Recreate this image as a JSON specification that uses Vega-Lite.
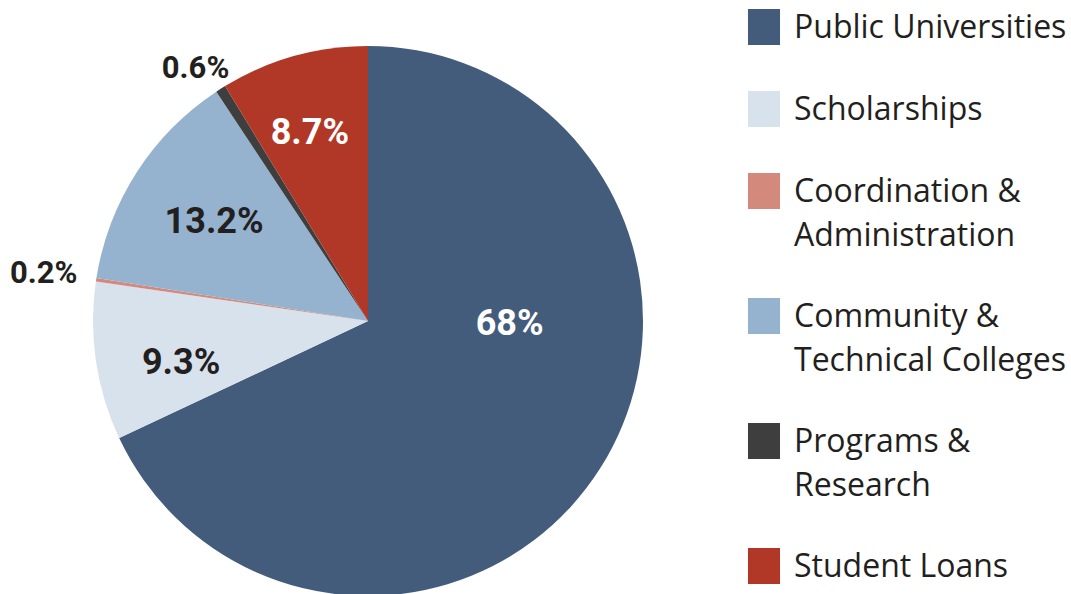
{
  "$schema": "https://vega.github.io/schema/vega-lite/v6.json",
  "width": 550,
  "height": 546,
  "autosize": {"type": "none"},
  "padding": {"left": 93, "top": 48, "right": 428, "bottom": 0},
  "background": "white",
  "config": {"view": {"stroke": null}},
  "data": {
    "values": [
      {"category": "Public Universities", "share": 68, "label": "68%", "idx": 1},
      {"category": "Scholarships", "share": 9.3, "label": "9.3%", "idx": 2},
      {"category": "Coordination & Administration", "share": 0.2, "label": "0.2%", "idx": 3},
      {"category": "Community & Technical Colleges", "share": 13.2, "label": "13.2%", "idx": 4},
      {"category": "Programs & Research", "share": 0.6, "label": "0.6%", "idx": 5},
      {"category": "Student Loans", "share": 8.7, "label": "8.7%", "idx": 6}
    ]
  },
  "encoding": {
    "theta": {"field": "share", "type": "quantitative", "stack": true},
    "order": {"field": "idx", "type": "quantitative"}
  },
  "layer": [
    {
      "mark": {"type": "arc", "radius": 275, "strokeWidth": 0},
      "encoding": {
        "color": {
          "field": "category",
          "type": "nominal",
          "scale": {
            "domain": ["Public Universities", "Scholarships", "Coordination & Administration", "Community & Technical Colleges", "Programs & Research", "Student Loans"],
            "range": ["#445c7c", "#d8e2ec", "#d4897d", "#95b3cf", "#3e3e3e", "#b13827"]
          },
          "legend": {
            "title": null,
            "orient": "none",
            "legendX": 653,
            "legendY": -39,
            "padding": 0,
            "symbolType": "M-0.89,-1H0.89V1H-0.89Z",
            "symbolSize": 1296,
            "symbolStrokeWidth": 0,
            "symbolOpacity": 1,
            "labelFont": "Open Sans",
            "labelFontSize": 32,
            "labelColor": "#231f20",
            "labelLimit": 400,
            "labelOffset": 12,
            "rowPadding": 46,
            "labelBaseline": "alphabetic",
            "labelExpr": "datum.label == 'Coordination & Administration' ? ['Coordination &', 'Administration'] : datum.label == 'Community & Technical Colleges' ? ['Community &', 'Technical Colleges'] : datum.label == 'Programs & Research' ? ['Programs &', 'Research'] : datum.label",
            "encode": {"labels": {"update": {"dy": {"value": 11}, "lineHeight": {"value": 44}}}}
          }
        }
      }
    },
    {
      "mark": {"type": "text", "radius": 144, "dx": 20, "dy": -74, "font": "Roboto", "fontWeight": "bold", "fontSize": 36, "fill": "white"},
      "encoding": {"text": {"condition": {"test": "datum.category === 'Public Universities'", "field": "label"}, "value": ""}}
    },
    {
      "mark": {"type": "text", "radius": 197, "dx": -5, "dy": 2, "font": "Roboto", "fontWeight": "bold", "fontSize": 36, "fill": "white"},
      "encoding": {"text": {"condition": {"test": "datum.category === 'Student Loans'", "field": "label"}, "value": ""}}
    },
    {
      "mark": {"type": "text", "radius": 305, "dx": -9, "dy": 6, "font": "Roboto", "fontWeight": "bold", "fontSize": 31, "fill": "#231f20"},
      "encoding": {"text": {"condition": {"test": "datum.category === 'Programs & Research'", "field": "label"}, "value": ""}}
    },
    {
      "mark": {"type": "text", "radius": 183, "dx": 0, "dy": 0, "font": "Roboto", "fontWeight": "bold", "fontSize": 36, "fill": "#231f20"},
      "encoding": {"text": {"condition": {"test": "datum.category === 'Community & Technical Colleges'", "field": "label"}, "value": ""}}
    },
    {
      "mark": {"type": "text", "radius": 328, "dx": 0, "dy": 2, "font": "Roboto", "fontWeight": "bold", "fontSize": 31, "fill": "#231f20"},
      "encoding": {"text": {"condition": {"test": "datum.category === 'Coordination & Administration'", "field": "label"}, "value": ""}}
    },
    {
      "mark": {"type": "text", "radius": 191, "dx": 2, "dy": 14, "font": "Roboto", "fontWeight": "bold", "fontSize": 36, "fill": "#231f20"},
      "encoding": {"text": {"condition": {"test": "datum.category === 'Scholarships'", "field": "label"}, "value": ""}}
    }
  ]
}
